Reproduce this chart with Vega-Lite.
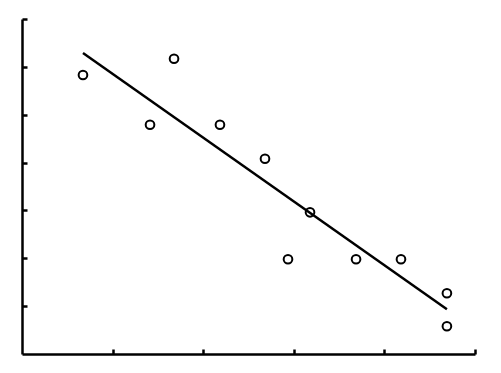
{
  "$schema": "https://vega.github.io/schema/vega-lite/v6.json",
  "width": 453,
  "height": 335,
  "autosize": {"type": "none"},
  "padding": {"left": 22, "top": 19, "right": 26, "bottom": 19},
  "background": "white",
  "config": {"view": {"stroke": null}},
  "data": {"values": [
    {"x": 0.673, "y": 5.83},
    {"x": 1.413, "y": 4.79},
    {"x": 1.678, "y": 6.17},
    {"x": 2.185, "y": 4.79},
    {"x": 2.682, "y": 4.08},
    {"x": 2.936, "y": 1.98},
    {"x": 3.179, "y": 2.96},
    {"x": 3.687, "y": 1.98},
    {"x": 4.183, "y": 1.98},
    {"x": 4.69, "y": 1.27},
    {"x": 4.69, "y": 0.58}
  ]},
  "encoding": {
    "x": {"field": "x", "type": "quantitative",
      "scale": {"domain": [0, 5], "nice": false, "zero": false},
      "axis": {"title": null, "labels": false, "grid": false, "values": [1, 2, 3, 4, 5],
        "domainColor": "black", "domainWidth": 2.5, "tickColor": "black", "tickWidth": 2.5, "tickSize": -5}},
    "y": {"field": "y", "type": "quantitative",
      "scale": {"domain": [0, 7], "nice": false, "zero": false},
      "axis": {"title": null, "labels": false, "grid": false, "values": [1, 2, 3, 4, 5, 6, 7],
        "domainColor": "black", "domainWidth": 2.5, "tickColor": "black", "tickWidth": 2.5, "tickSize": -5}}
  },
  "layer": [
    {"mark": {"type": "point", "shape": "circle", "filled": false, "color": "black", "size": 75, "strokeWidth": 2, "opacity": 1}},
    {"transform": [{"regression": "y", "on": "x"}],
     "mark": {"type": "line", "color": "black", "strokeWidth": 2.5}}
  ]
}
